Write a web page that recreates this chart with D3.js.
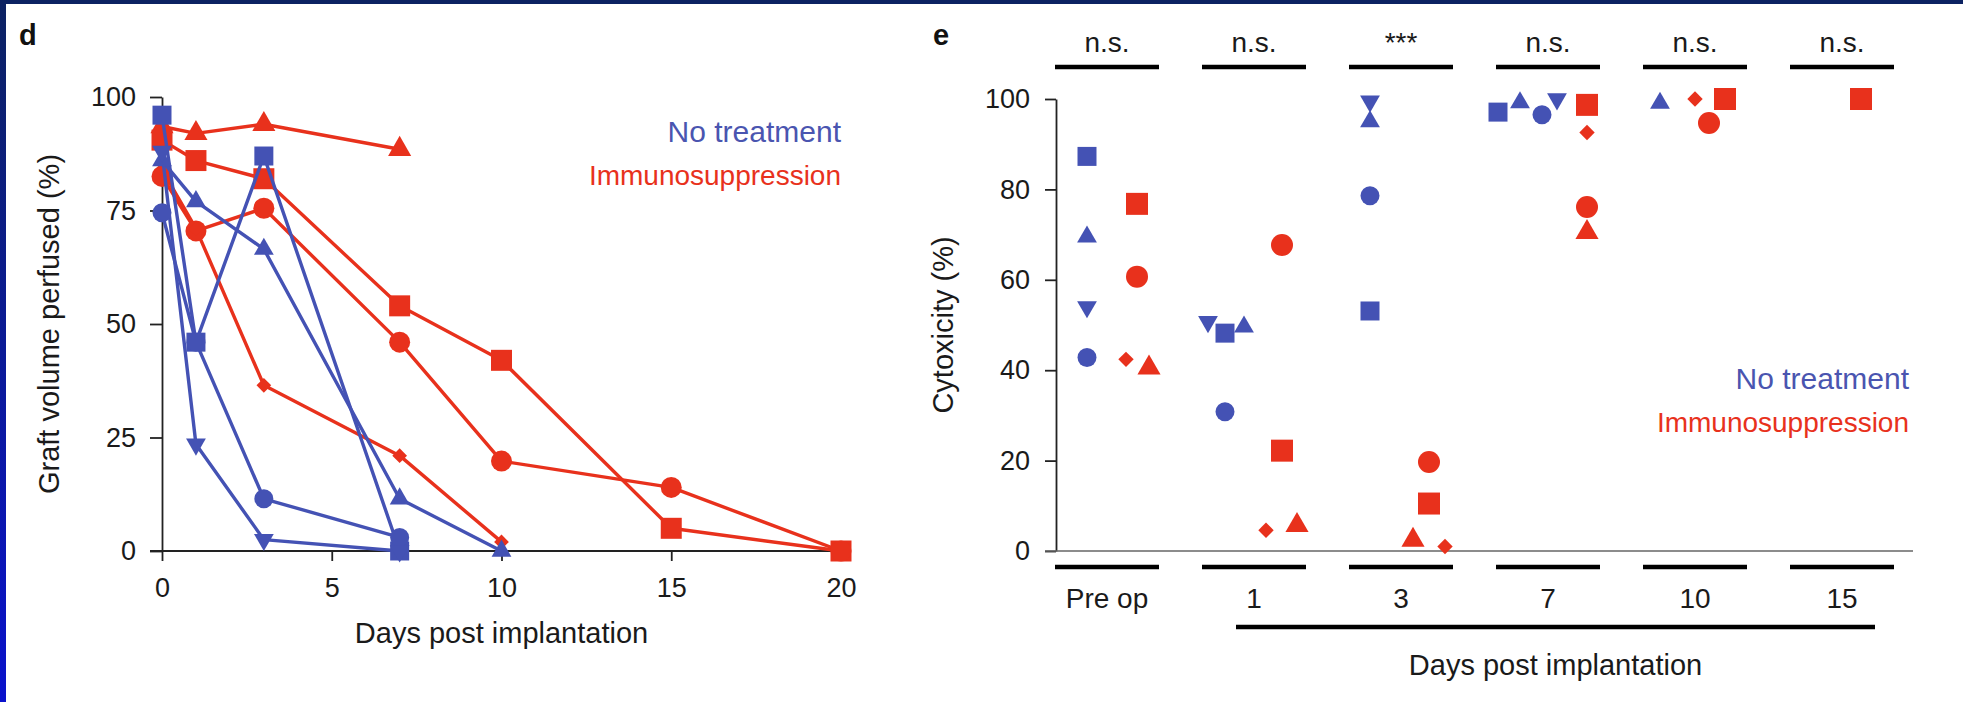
<!DOCTYPE html>
<html>
<head>
<meta charset="utf-8">
<script src="https://cdn.jsdelivr.net/npm/d3@7"></script>
<style>
  html, body { margin: 0; padding: 0; background: #fff; }
  svg { display: block; }
</style>
</head>
<body>
<svg id="chart" width="1963" height="702"></svg>
<script>
// ---- panel d: graft volume perfused (%), one array per animal, [day, value]
const dNoTreatSquare   = [[0, 96], [1, 46], [3, 87], [7, 0]];
const dNoTreatTriangle = [[0, 86], [1, 77], [3, 66.5], [7, 11.5], [10, 0]];
const dNoTreatCircle   = [[0, 74.5], [1, 46], [3, 11.5], [7, 3]];
const dNoTreatDown     = [[0, 88], [1, 23.5], [3, 2.5], [7, 0]];
const dImmunoTriangle  = [[0, 93.5], [1, 92], [3, 94], [7, 88.5]];
const dImmunoSquare    = [[0, 90.5], [1, 86], [3, 82], [7, 54], [10, 42], [15, 5], [20, 0]];
const dImmunoCircle    = [[0, 82.5], [1, 70.5], [3, 75.5], [7, 46], [10, 19.8], [15, 14], [20, 0]];
const dImmunoDiamond   = [[0, 84], [1, 71], [3, 36.5], [7, 21], [10, 2]];
const dXTicks = [0, 5, 10, 15, 20];
const dYTicks = [0, 25, 50, 75, 100];

// ---- panel e: cytotoxicity (%), [group, shape, value]
const eGroups = ["Pre op", "1", "3", "7", "10", "15"];
const eSignif = ["n.s.", "n.s.", "***", "n.s.", "n.s.", "n.s."];
const eYTicks = [0, 20, 40, 60, 80, 100];
const eNoTreat = [
    ["Pre op", "square", 87.3], ["Pre op", "triangle", 69.5], ["Pre op", "down", 54], ["Pre op", "circle", 42.8],
    ["1", "down", 50.7], ["1", "square", 48.2], ["1", "triangle", 49.6], ["1", "circle", 30.8],
    ["3", "down", 99.5], ["3", "triangle", 95], ["3", "circle", 78.6], ["3", "square", 53.1],
    ["7", "square", 97.1], ["7", "triangle", 99.2], ["7", "circle", 96.5], ["7", "down", 100],
    ["10", "triangle", 99.1]
];
const eImmuno = [
    ["Pre op", "square", 76.8], ["Pre op", "circle", 60.7], ["Pre op", "diamond", 42.4], ["Pre op", "triangle", 40.5],
    ["1", "circle", 67.7], ["1", "square", 22.2], ["1", "diamond", 4.6], ["1", "triangle", 5.7],
    ["3", "circle", 19.7], ["3", "square", 10.5], ["3", "triangle", 2.4], ["3", "diamond", 1],
    ["7", "square", 98.7], ["7", "diamond", 92.6], ["7", "circle", 76.1], ["7", "triangle", 70.5],
    ["10", "diamond", 100], ["10", "square", 100], ["10", "circle", 94.7],
    ["15", "square", 100]
];
// horizontal dodge (px) used in the figure so markers don't overlap
const eNoTreatDodge = [-20, -20, -20, -20, -46, -29, -10, -29, -31, -31, -31, -31, -50, -28, -6, 9, -35];
const eImmunoDodge  = [30, 30, 19, 42, 28, 28, 12, 43, 28, 28, 12, 44, 39, 39, 39, 39, 0, 30, 14, 19];

const svg = d3.select("#chart");
const fontFamily = "'Liberation Sans', Arial, Helvetica, sans-serif";
const blue = "#4452b4";
const red = "#e8311c";
const ink = "#1a1a1a";

// ---- frame (dark slide border)
const grad = svg.append("defs").append("linearGradient")
    .attr("id", "edge").attr("x1", 0).attr("y1", 0).attr("x2", 0).attr("y2", 1);
grad.append("stop").attr("offset", "0%").attr("stop-color", "#0c2262");
grad.append("stop").attr("offset", "100%").attr("stop-color", "#0a12cc");

svg.append("rect").attr("width", 1963).attr("height", 702).attr("fill", "#fff");
svg.append("rect").attr("width", 1963).attr("height", 4).attr("fill", "#0c2262");
svg.append("rect").attr("width", 6).attr("height", 702).attr("fill", "url(#edge)");

// marker helpers
function markerPath(shape, w) {
    if (shape === "circle") return d3.symbol(d3.symbolCircle, Math.PI * w * w / 4)();
    if (shape === "square") return d3.symbol(d3.symbolSquare, w * w)();
    if (shape === "diamond") return d3.symbol(d3.symbolSquare, (w * 0.7) * (w * 0.7) / 2)();
    const side = w * 1.1;
    return d3.symbol(d3.symbolTriangle, side * side * Math.sqrt(3) / 4)();
}
function markerRotate(shape) {
    if (shape === "down") return 180;
    if (shape === "diamond") return 45;
    return 0;
}

function styleAxis(g, size) {
    g.attr("font-family", fontFamily).attr("font-size", size);
    g.selectAll(".domain, .tick line").attr("stroke", "#222").attr("stroke-width", 1.8);
    g.selectAll(".tick text").attr("fill", ink);
}

// ================= panel d =================
const xD = d3.scaleLinear().domain([0, 20]).range([162, 841]);
const yD = d3.scaleLinear().domain([0, 100]).range([551, 97]);
const gD = svg.append("g");

gD.append("g")
    .attr("transform", `translate(${xD(0)},0)`)
    .call(d3.axisLeft(yD).tickValues(dYTicks).tickSize(12).tickSizeOuter(0).tickPadding(14))
    .call(g => styleAxis(g, 27));

gD.append("g")
    .attr("transform", `translate(0,${yD(0)})`)
    .call(d3.axisBottom(xD).tickValues(dXTicks).tickSize(10).tickSizeOuter(0).tickPadding(17))
    .call(g => styleAxis(g, 27))
    .call(g => g.select(".domain").attr("d", `M${xD(0) - 12},0H${xD(20) + 10}`));

const dSeries = [
    { data: dImmunoTriangle, shape: "triangle", color: red, w: 21 },
    { data: dImmunoSquare, shape: "square", color: red, w: 21 },
    { data: dImmunoCircle, shape: "circle", color: red, w: 21 },
    { data: dImmunoDiamond, shape: "diamond", color: red, w: 21 },
    { data: dNoTreatSquare, shape: "square", color: blue, w: 19 },
    { data: dNoTreatTriangle, shape: "triangle", color: blue, w: 18 },
    { data: dNoTreatCircle, shape: "circle", color: blue, w: 19 },
    { data: dNoTreatDown, shape: "down", color: blue, w: 18 }
];

const line = d3.line().x(d => xD(d[0])).y(d => yD(d[1]));

// red group first, blue on top (as in the figure)
[red, blue].forEach(col => {
    const group = dSeries.filter(s => s.color === col);
    gD.append("g").selectAll("path")
        .data(group)
        .join("path")
        .attr("d", s => line(s.data))
        .attr("fill", "none")
        .attr("stroke", s => s.color)
        .attr("stroke-width", 3.4)
        .attr("stroke-linejoin", "round");
    group.forEach(s => {
        gD.append("g").selectAll("path")
            .data(s.data)
            .join("path")
            .attr("d", markerPath(s.shape, s.w))
            .attr("transform", d => `translate(${xD(d[0])},${yD(d[1])}) rotate(${markerRotate(s.shape)})`)
            .attr("fill", s.color);
    });
});

gD.append("text")
    .attr("transform", `translate(59,${yD(50)}) rotate(-90)`)
    .attr("text-anchor", "middle")
    .attr("font-family", fontFamily).attr("font-size", 29).attr("fill", ink)
    .text("Graft volume perfused (%)");

gD.append("text")
    .attr("x", xD(10)).attr("y", 643)
    .attr("text-anchor", "middle")
    .attr("font-family", fontFamily).attr("font-size", 29).attr("fill", ink)
    .text("Days post implantation");

gD.append("text")
    .attr("x", 19).attr("y", 45)
    .attr("font-family", fontFamily).attr("font-size", 29).attr("font-weight", "bold").attr("fill", "#111")
    .text("d");

function legend(g, xRight, yTop) {
    g.append("text").attr("x", xRight).attr("y", yTop)
        .attr("text-anchor", "end")
        .attr("font-family", fontFamily).attr("font-size", 30).attr("fill", "#4a55b0")
        .text("No treatment");
    g.append("text").attr("x", xRight).attr("y", yTop + 43)
        .attr("text-anchor", "end")
        .attr("font-family", fontFamily).attr("font-size", 28).attr("fill", red)
        .text("Immunosuppression");
}
legend(gD, xD(20), 142);

// ================= panel e =================
const xE = d3.scalePoint().domain(eGroups).range([1107, 1842]);
const yE = d3.scaleLinear().domain([0, 100]).range([551, 99]);
const gE = svg.append("g");
const halfBar = 52;

gE.append("g")
    .attr("transform", "translate(1056,0)")
    .call(d3.axisLeft(yE).tickValues(eYTicks).tickSize(11).tickSizeOuter(0).tickPadding(15))
    .call(g => styleAxis(g, 27));

gE.append("line")
    .attr("x1", 1045).attr("x2", 1913)
    .attr("y1", yE(0)).attr("y2", yE(0))
    .attr("stroke", "#666").attr("stroke-width", 1.6);

// group bars above (significance) and below (labels)
[67, 567].forEach(y => {
    gE.append("g").selectAll("line")
        .data(eGroups)
        .join("line")
        .attr("x1", d => xE(d) - halfBar).attr("x2", d => xE(d) + halfBar)
        .attr("y1", y).attr("y2", y)
        .attr("stroke", "#000").attr("stroke-width", 4.5);
});

gE.append("g").selectAll("text")
    .data(eGroups)
    .join("text")
    .attr("x", d => xE(d)).attr("y", 52)
    .attr("text-anchor", "middle")
    .attr("font-family", fontFamily).attr("font-size", 28).attr("fill", ink)
    .text((d, i) => eSignif[i]);

gE.append("g").selectAll("text")
    .data(eGroups)
    .join("text")
    .attr("x", d => xE(d)).attr("y", 608)
    .attr("text-anchor", "middle")
    .attr("font-family", fontFamily).attr("font-size", 28).attr("fill", ink)
    .text(d => d);

const daysStart = xE("1") - 18;
const daysEnd = xE("15") + 33;
gE.append("line")
    .attr("x1", daysStart).attr("x2", daysEnd)
    .attr("y1", 627).attr("y2", 627)
    .attr("stroke", "#000").attr("stroke-width", 4.5);

gE.append("text")
    .attr("x", (daysStart + daysEnd) / 2).attr("y", 675)
    .attr("text-anchor", "middle")
    .attr("font-family", fontFamily).attr("font-size", 29).attr("fill", ink)
    .text("Days post implantation");

gE.append("text")
    .attr("transform", `translate(953,${yE(50)}) rotate(-90)`)
    .attr("text-anchor", "middle")
    .attr("font-family", fontFamily).attr("font-size", 29).attr("fill", ink)
    .text("Cytoxicity (%)");

gE.append("text")
    .attr("x", 933).attr("y", 45)
    .attr("font-family", fontFamily).attr("font-size", 29).attr("font-weight", "bold").attr("fill", "#111")
    .text("e");

function drawPoints(points, dodge, color, w) {
    gE.append("g").selectAll("path")
        .data(points)
        .join("path")
        .attr("d", d => markerPath(d[1], d[1] === "triangle" || d[1] === "down" ? w - 1 : w))
        .attr("transform", (d, i) => `translate(${xE(d[0]) + dodge[i]},${yE(d[2])}) rotate(${markerRotate(d[1])})`)
        .attr("fill", color);
}
drawPoints(eNoTreat, eNoTreatDodge, blue, 19);
drawPoints(eImmuno, eImmunoDodge, red, 22);

legend(gE, 1909, 389);
</script>
</body>
</html>
